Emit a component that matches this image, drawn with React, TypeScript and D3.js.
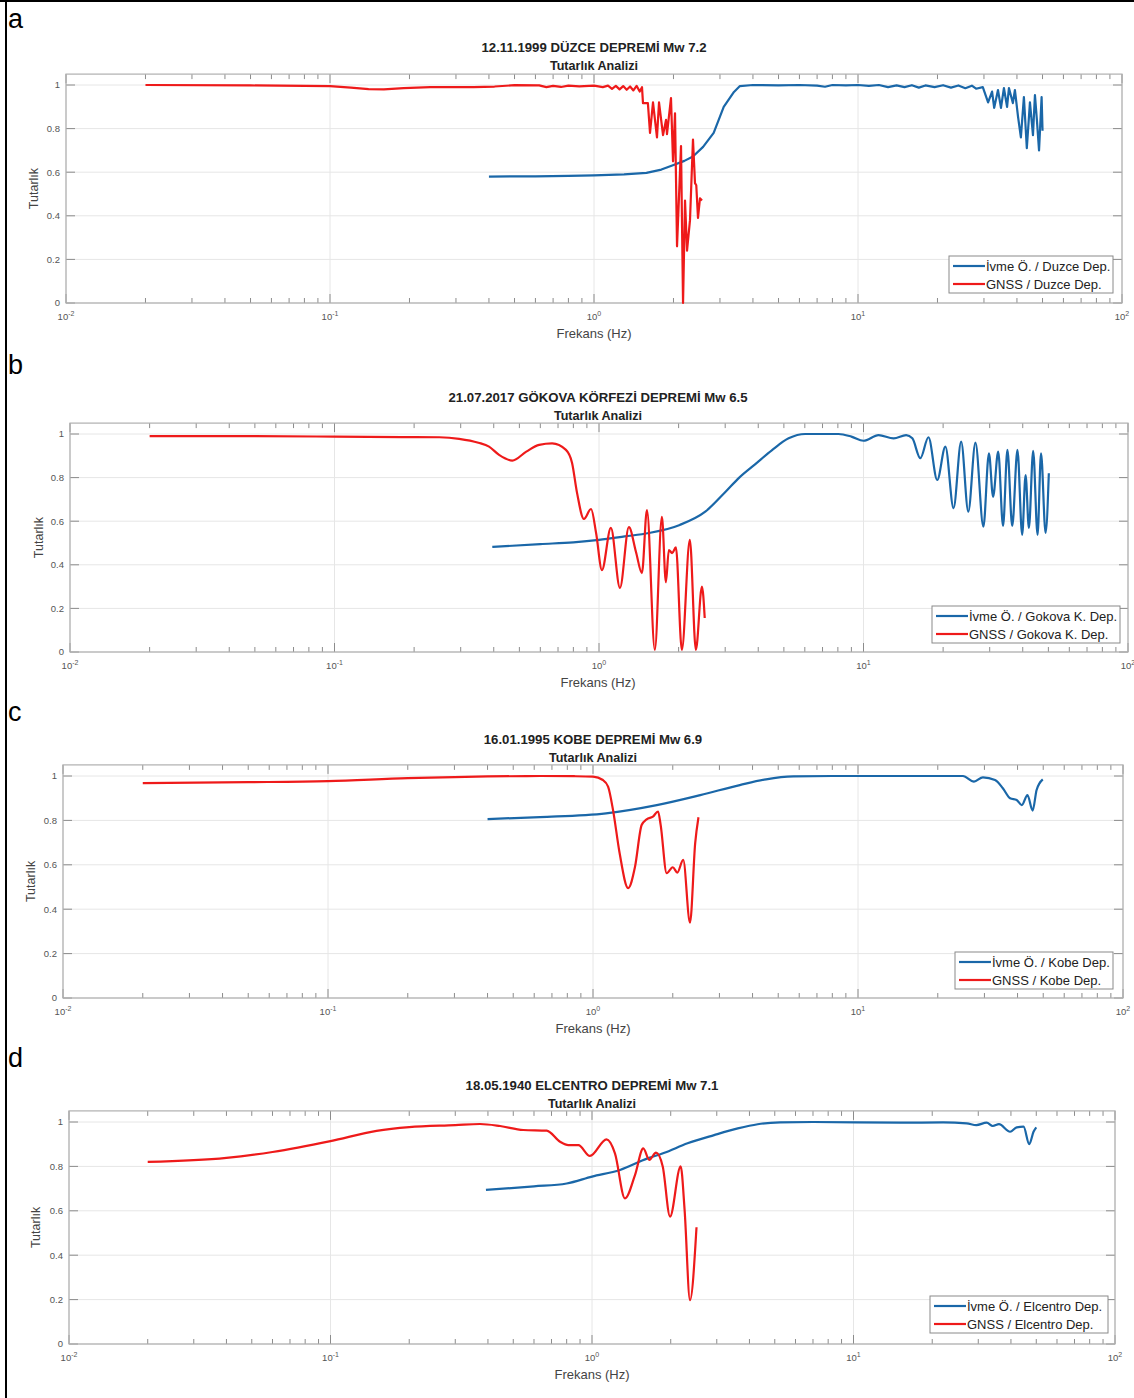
import * as d3 from 'd3';

type Pt = [number, number];

// frequency (Hz), coherence
const duzceIvme: Pt[] = [[0.4,0.58],[0.6,0.581],[0.8,0.583],[1.0,0.585],[1.3,0.59],[1.58,0.597],[1.8,0.612],[1.99,0.632],[2.2,0.652],[2.37,0.672],[2.59,0.716],[2.84,0.78],[3.1,0.9],[3.39,0.968],[3.57,0.995],[4.0,1.0],[5,0.998],[6,1.0],[7,0.997],[7.5,0.992],[8,1.0],[9,0.998],[10,1.0],[11,0.996],[12,1.0],[13,0.99],[14,0.998],[15,0.99],[16,0.999],[17,0.988],[18,0.998],[19.5,0.99],[21,0.999],[22.5,0.988],[24,0.998],[25.5,0.985],[27,0.997],[28,0.983],[29.7,0.99],[31.1,0.92],[32.2,0.97],[32.8,0.895],[33.9,0.977],[34.8,0.895],[35.7,0.986],[36.7,0.9],[37.3,0.986],[38.6,0.917],[39.3,0.977],[40.4,0.853],[41.4,0.76],[42.5,0.945],[43.6,0.71],[44.8,0.92],[46.0,0.77],[46.8,0.954],[47.6,0.84],[48.5,0.7],[49.6,0.945],[50,0.79]];
const duzceGnss: Pt[] = [[0.02,1.0],[0.05,0.998],[0.1,0.995],[0.12,0.988],[0.14,0.981],[0.16,0.98],[0.19,0.986],[0.24,0.99],[0.35,0.99],[0.42,0.993],[0.5,0.999],[0.62,0.998],[0.66,0.99],[0.7,0.996],[0.75,0.991],[0.8,0.997],[0.88,0.994],[1.0,0.997],[1.08,0.99],[1.13,0.997],[1.17,0.982],[1.21,0.996],[1.25,0.98],[1.29,0.995],[1.33,0.978],[1.37,0.993],[1.41,0.975],[1.45,0.996],[1.49,0.97],[1.52,0.99],[1.533,0.917],[1.6,0.917],[1.63,0.78],[1.673,0.92],[1.732,0.76],[1.763,0.92],[1.826,0.77],[1.874,0.84],[1.89,0.775],[1.957,0.94],[1.992,0.65],[2.027,0.87],[2.063,0.26],[2.136,0.72],[2.174,0.0],[2.212,0.47],[2.251,0.24],[2.31,0.38],[2.371,0.75],[2.413,0.55],[2.44,0.54],[2.477,0.39],[2.52,0.48],[2.565,0.47]];

const gokovaIvme: Pt[] = [[0.395,0.482],[0.6,0.495],[0.8,0.503],[1.0,0.514],[1.25,0.53],[1.545,0.546],[2.02,0.583],[2.53,0.645],[3.01,0.735],[3.39,0.8],[3.9,0.862],[4.5,0.925],[5.21,0.98],[6.02,1.0],[8.05,1.0],[9.0,0.988],[10.0,0.969],[11.4,0.995],[13.0,0.98],[14.5,0.995],[15.3,0.98],[16.4,0.889],[17.6,0.985],[19.0,0.789],[20.4,0.942],[21.9,0.66],[23.4,0.965],[24.9,0.644],[26.5,0.96],[28.4,0.575],[29.8,0.911],[30.9,0.712],[32.3,0.919],[33.7,0.578],[35.0,0.927],[36.5,0.578],[38.2,0.927],[39.8,0.537],[41.0,0.812],[42.2,0.569],[43.8,0.923],[45.5,0.537],[46.9,0.911],[48.8,0.546],[50.2,0.82]];
const gokovaGnss: Pt[] = [[0.02,0.99],[0.05,0.99],[0.1,0.988],[0.18,0.986],[0.249,0.985],[0.296,0.978],[0.35,0.96],[0.384,0.942],[0.419,0.904],[0.47,0.878],[0.531,0.919],[0.594,0.95],[0.665,0.957],[0.75,0.927],[0.791,0.867],[0.826,0.73],[0.877,0.61],[0.933,0.656],[0.975,0.546],[1.026,0.376],[1.109,0.569],[1.2,0.294],[1.297,0.573],[1.38,0.459],[1.453,0.362],[1.518,0.651],[1.626,0.01],[1.729,0.62],[1.79,0.32],[1.837,0.468],[1.89,0.454],[1.953,0.48],[2.057,0.01],[2.205,0.514],[2.324,0.01],[2.45,0.3],[2.51,0.156]];

const kobeIvme: Pt[] = [[0.4,0.806],[0.631,0.815],[1.12,0.832],[1.74,0.869],[2.54,0.914],[3.58,0.959],[4.5,0.985],[5.7,0.998],[8,1.0],[14.4,1.0],[24.9,1.0],[27.4,0.975],[29.6,0.994],[32.9,0.982],[35.2,0.945],[37.5,0.9],[39.7,0.892],[41.5,0.869],[43.6,0.914],[45.6,0.844],[47.2,0.937],[49.8,0.985]];
const kobeGnss: Pt[] = [[0.02,0.968],[0.05,0.972],[0.1,0.977],[0.2,0.99],[0.3,0.995],[0.4,0.998],[0.631,1.0],[0.85,0.999],[1.0,0.997],[1.09,0.982],[1.14,0.952],[1.19,0.847],[1.26,0.653],[1.357,0.495],[1.44,0.59],[1.526,0.779],[1.594,0.805],[1.683,0.817],[1.76,0.84],[1.8,0.78],[1.897,0.562],[2.0,0.589],[2.08,0.565],[2.19,0.622],[2.323,0.339],[2.43,0.698],[2.5,0.814]];

const elcentroIvme: Pt[] = [[0.393,0.694],[0.6,0.71],[0.8,0.723],[1.0,0.754],[1.28,0.784],[1.63,0.836],[1.88,0.86],[2.32,0.904],[2.93,0.941],[3.61,0.971],[4.3,0.99],[5.24,0.998],[7,1.0],[15.1,0.997],[22,0.998],[27.1,0.994],[29.5,0.986],[32.3,0.997],[34.1,0.982],[36,0.99],[39.7,0.956],[42.1,0.976],[44.7,0.979],[47.0,0.9],[48.8,0.956],[50,0.976]];
const elcentroGnss: Pt[] = [[0.02,0.82],[0.04,0.838],[0.06,0.865],[0.1,0.914],[0.15,0.96],[0.2,0.977],[0.3,0.986],[0.373,0.991],[0.445,0.982],[0.546,0.964],[0.671,0.961],[0.755,0.911],[0.812,0.896],[0.887,0.896],[0.982,0.847],[1.137,0.922],[1.224,0.859],[1.337,0.656],[1.46,0.761],[1.571,0.881],[1.656,0.829],[1.757,0.862],[1.864,0.8],[1.988,0.574],[2.183,0.8],[2.26,0.604],[2.37,0.198],[2.51,0.526]];

const titles = [
  '12.11.1999 DÜZCE DEPREMİ Mw 7.2',
  '21.07.2017 GÖKOVA KÖRFEZİ DEPREMİ Mw 6.5',
  '16.01.1995 KOBE DEPREMİ Mw 6.9',
  '18.05.1940 ELCENTRO DEPREMİ Mw 7.1',
];
const quakeNames = ['Duzce Dep.', 'Gokova K. Dep.', 'Kobe Dep.', 'Elcentro Dep.'];
const panelLetters = ['a', 'b', 'c', 'd'];
const yTicks = [0, 0.2, 0.4, 0.6, 0.8, 1];
const xDecades = [-2, -1, 0, 1, 2];

const BLUE = '#1a67a8';
const RED = '#ee1a1a';

// layout of each panel (pixels)
const layouts = [
  { left: 66, right: 1122, y0: 303, y1: 85, cx: 594, titleY: 52, labelX: 38, letterY: 28, legend: [949, 256, 164, 37], smooth: false },
  { left: 70, right: 1128, y0: 652, y1: 434, cx: 598, titleY: 402, labelX: 43, letterY: 374, legend: [932, 606, 188, 37], smooth: true },
  { left: 63, right: 1123, y0: 998, y1: 776, cx: 593, titleY: 744, labelX: 35, letterY: 721, legend: [955, 952, 158, 37], smooth: true },
  { left: 69, right: 1115, y0: 1344, y1: 1122, cx: 592, titleY: 1090, labelX: 40, letterY: 1067, legend: [930, 1296, 178, 37], smooth: true },
];
const series: [Pt[], Pt[]][] = [
  [duzceIvme, duzceGnss],
  [gokovaIvme, gokovaGnss],
  [kobeIvme, kobeGnss],
  [elcentroIvme, elcentroGnss],
];

const FONT = 'Arial, "Liberation Sans", Helvetica, sans-serif';

function Panel({ i }: { i: number }) {
  const L = layouts[i];
  const [ivme, gnss] = series[i];
  const x = d3.scaleLog().domain([0.01, 100]).range([L.left, L.right]);
  const y = d3.scaleLinear().domain([0, 1]).range([L.y0, L.y1]);
  const top = y(1.05);
  const bottom = L.y0;
  const line = d3
    .line<Pt>()
    .x((d) => x(d[0]))
    .y((d) => y(d[1]))
    .curve(L.smooth ? d3.curveMonotoneX : d3.curveLinear);
  const minors = d3.range(-2, 2).flatMap((e) => d3.range(2, 10).map((m) => m * Math.pow(10, e)));
  const [bx, by, bw, bh] = L.legend;
  const rows = [
    { label: `İvme Ö. / ${quakeNames[i]}`, color: BLUE },
    { label: `GNSS / ${quakeNames[i]}`, color: RED },
  ];
  return (
    <g fontFamily={FONT}>
      <text x={8} y={L.letterY} fontSize={27} fill="#000">{panelLetters[i]}</text>
      <text x={L.cx} y={L.titleY} textAnchor="middle" fontSize={13.2} fontWeight="bold" fill="#222">{titles[i]}</text>
      <text x={L.cx} y={L.titleY + 17.5} textAnchor="middle" fontSize={12.6} fontWeight="bold" fill="#222">Tutarlık Analizi</text>
      {/* grid */}
      {yTicks.map((t) => (
        <line key={'gy' + t} x1={L.left} x2={L.right} y1={y(t)} y2={y(t)} stroke="#e6e6e6" strokeWidth={1} />
      ))}
      {xDecades.map((e) => (
        <line key={'gx' + e} x1={x(Math.pow(10, e))} x2={x(Math.pow(10, e))} y1={top} y2={bottom} stroke="#e6e6e6" strokeWidth={1} />
      ))}
      {/* ticks */}
      {minors.map((m) => (
        <g key={'m' + m} stroke="#8c8c8c" strokeWidth={1}>
          <line x1={x(m)} x2={x(m)} y1={bottom} y2={bottom - 5} />
          <line x1={x(m)} x2={x(m)} y1={top} y2={top + 5} />
        </g>
      ))}
      {xDecades.map((e) => (
        <g key={'M' + e} stroke="#8c8c8c" strokeWidth={1}>
          <line x1={x(Math.pow(10, e))} x2={x(Math.pow(10, e))} y1={bottom} y2={bottom - 9} />
          <line x1={x(Math.pow(10, e))} x2={x(Math.pow(10, e))} y1={top} y2={top + 9} />
        </g>
      ))}
      {yTicks.map((t) => (
        <g key={'yt' + t} stroke="#8c8c8c" strokeWidth={1}>
          <line x1={L.left} x2={L.left + 9} y1={y(t)} y2={y(t)} />
          <line x1={L.right} x2={L.right - 9} y1={y(t)} y2={y(t)} />
        </g>
      ))}
      <rect x={L.left} y={top} width={L.right - L.left} height={bottom - top} fill="none" stroke="#b0b0b0" strokeWidth={1.2} />
      {/* tick labels */}
      {yTicks.map((t) => (
        <text key={'yl' + t} x={L.left - 6} y={y(t)} dy="0.35em" textAnchor="end" fontSize={9.5} fill="#555">{String(t)}</text>
      ))}
      {xDecades.map((e) => (
        <text key={'xl' + e} x={x(Math.pow(10, e))} y={bottom + 17} textAnchor="middle" fontSize={9.5} fill="#555">
          10<tspan fontSize={7} dy={-4}>{String(e)}</tspan>
        </text>
      ))}
      <text x={L.cx} y={bottom + 35} textAnchor="middle" fontSize={13} fill="#444">Frekans (Hz)</text>
      <text transform={`translate(${L.labelX},${(top + bottom) / 2}) rotate(-90)`} textAnchor="middle" fontSize={12.5} fill="#444">Tutarlık</text>
      {/* data */}
      <path d={line(ivme) ?? ''} fill="none" stroke={BLUE} strokeWidth={2.2} strokeLinejoin="round" />
      <path d={line(gnss) ?? ''} fill="none" stroke={RED} strokeWidth={2.2} strokeLinejoin="round" />
      {/* legend */}
      <rect x={bx} y={by} width={bw} height={bh} fill="#fff" stroke="#8a8a8a" strokeWidth={1} />
      {rows.map((r, k) => (
        <g key={r.label}>
          <line x1={bx + 4} x2={bx + 36} y1={by + 10 + k * 18} y2={by + 10 + k * 18} stroke={r.color} strokeWidth={2.2} />
          <text x={bx + 37} y={by + 10 + k * 18} dy="0.36em" fontSize={13} fill="#222">{r.label}</text>
        </g>
      ))}
    </g>
  );
}

export default function App() {
  return (
    <div style={{ position: 'absolute', left: 0, top: 0 }}>
      <svg width={1134} height={1398} style={{ display: 'block', background: '#fff' }}>
        <rect x={0} y={0} width={1134} height={1398} fill="#fff" />
        {layouts.map((_, i) => (
          <Panel key={i} i={i} />
        ))}
        <line x1={6} x2={6} y1={0} y2={1398} stroke="#000" strokeWidth={2} />
        <line x1={0} x2={1134} y1={1} y2={1} stroke="#000" strokeWidth={2} />
      </svg>
    </div>
  );
}
